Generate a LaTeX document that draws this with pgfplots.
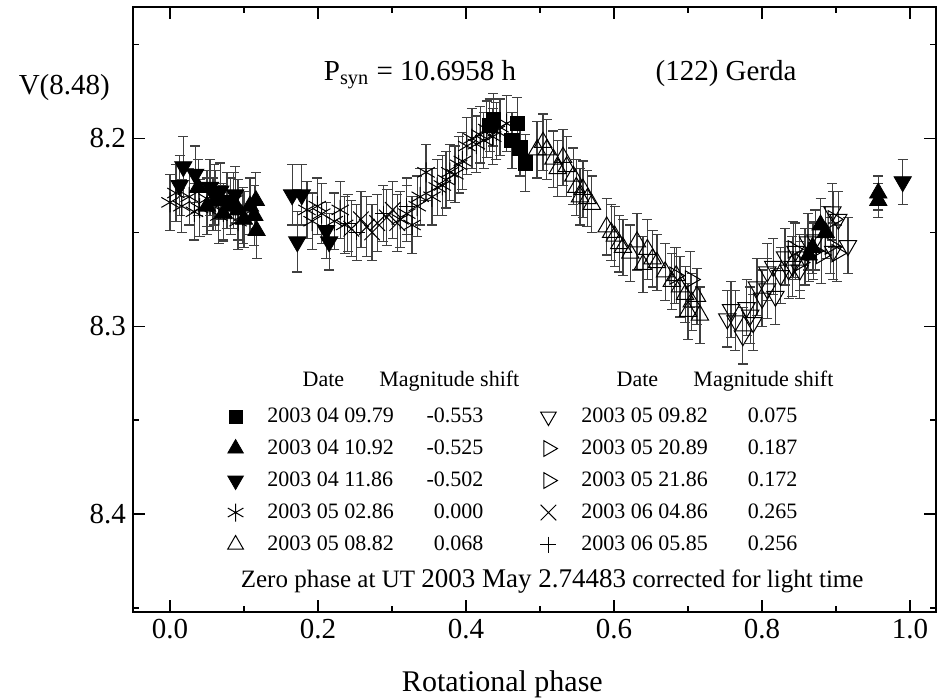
\documentclass[border=0pt]{standalone}
\usepackage{fontspec}
\setmainfont{Liberation Serif}
\usepackage{pgfplots}
\pgfplotsset{compat=1.18}
\usepackage{pgfplotstable}

% 2003 04 09.79 (filled square)
\pgfplotstableread{
x y e
0.432 8.193 0.014
0.437 8.190 0.014
0.462 8.201 0.015
0.469 8.192 0.014
0.473 8.205 0.015
0.480 8.213 0.015
}\tA
% 2003 04 10.92 (filled up triangle)
\pgfplotstableread{
x y e
0.038 8.226 0.015
0.050 8.236 0.015
0.062 8.233 0.016
0.072 8.240 0.015
0.082 8.236 0.015
0.092 8.238 0.016
0.100 8.243 0.015
0.108 8.236 0.015
0.116 8.233 0.015
0.114 8.241 0.016
0.117 8.249 0.015
0.863 8.262 0.014
0.868 8.258 0.014
0.879 8.246 0.014
0.886 8.250 0.014
0.957 8.229 0.009
0.957 8.233 0.009
}\tB
% 2003 04 11.86 (filled down triangle)
\pgfplotstableread{
x y e
0.013 8.225 0.016
0.018 8.215 0.016
0.034 8.219 0.015
0.054 8.226 0.015
0.060 8.230 0.016
0.068 8.228 0.015
0.077 8.233 0.015
0.088 8.230 0.015
0.165 8.230 0.016
0.178 8.230 0.016
0.172 8.255 0.016
0.211 8.249 0.015
0.215 8.255 0.015
0.990 8.223 0.012
}\tC
% 2003 05 02.86 (asterisk)
\pgfplotstableread{
x y e
0.000 8.234 0.015
0.008 8.229 0.015
0.016 8.236 0.014
0.026 8.231 0.015
0.033 8.239 0.015
0.040 8.237 0.015
0.050 8.232 0.015
0.058 8.235 0.014
0.066 8.241 0.015
0.072 8.239 0.015
0.086 8.233 0.015
0.092 8.244 0.015
0.098 8.241 0.015
0.185 8.238 0.015
0.192 8.244 0.015
0.199 8.236 0.015
0.205 8.240 0.016
0.222 8.244 0.015
0.230 8.238 0.015
0.236 8.246 0.015
0.311 8.243 0.015
0.320 8.240 0.015
0.327 8.246 0.015
0.334 8.236 0.016
0.338 8.231 0.015
0.346 8.218 0.015
0.354 8.231 0.015
0.361 8.226 0.015
0.368 8.225 0.016
0.373 8.222 0.015
0.378 8.218 0.015
0.385 8.219 0.015
0.390 8.214 0.015
0.395 8.212 0.015
0.401 8.204 0.015
0.408 8.200 0.016
0.414 8.203 0.015
0.419 8.198 0.015
0.424 8.201 0.015
0.428 8.195 0.015
0.436 8.199 0.015
0.441 8.196 0.015
0.446 8.194 0.015
0.455 8.192 0.015
}\tD
% 2003 05 08.82 (open up triangle)
\pgfplotstableread{
x y e
0.496 8.206 0.015
0.504 8.202 0.015
0.509 8.206 0.016
0.518 8.211 0.015
0.524 8.216 0.015
0.531 8.210 0.015
0.536 8.215 0.016
0.545 8.220 0.015
0.549 8.226 0.015
0.554 8.231 0.015
0.558 8.227 0.015
0.564 8.232 0.015
0.570 8.235 0.015
0.590 8.247 0.015
0.596 8.250 0.015
0.601 8.252 0.016
0.607 8.256 0.015
0.612 8.258 0.015
0.622 8.261 0.015
0.631 8.255 0.015
0.639 8.267 0.015
0.645 8.259 0.016
0.652 8.264 0.015
0.658 8.266 0.015
0.669 8.271 0.015
0.678 8.276 0.015
0.684 8.273 0.015
0.689 8.279 0.016
0.696 8.283 0.015
0.700 8.292 0.015
0.705 8.287 0.015
0.712 8.284 0.015
0.716 8.294 0.015
}\tE
% 2003 05 09.82 (open down triangle)
\pgfplotstableread{
x y e
0.753 8.296 0.015
0.758 8.291 0.015
0.764 8.297 0.016
0.774 8.305 0.015
0.779 8.290 0.015
0.784 8.294 0.015
0.788 8.298 0.015
0.793 8.279 0.015
0.800 8.285 0.015
0.807 8.280 0.016
0.807 8.271 0.015
0.815 8.268 0.015
0.818 8.284 0.015
0.825 8.273 0.015
0.831 8.263 0.015
0.836 8.270 0.015
0.841 8.268 0.016
0.845 8.260 0.015
0.851 8.270 0.015
0.858 8.263 0.015
0.862 8.255 0.015
0.872 8.254 0.016
0.895 8.239 0.015
0.903 8.243 0.015
0.896 8.260 0.015
0.916 8.257 0.015
}\tF
% 2003 05 20.89 (open right triangle)
\pgfplotstableread{
x y e
0.682 8.273 0.015
0.703 8.275 0.015
0.842 8.259 0.015
0.851 8.266 0.015
0.869 8.260 0.015
}\tG
% 2003 05 21.86 (open right triangle)
\pgfplotstableread{
x y e
0.880 8.262 0.015
0.892 8.257 0.015
0.896 8.243 0.015
0.901 8.261 0.015
}\tH
% 2003 06 04.86 (x)
\pgfplotstableread{
x y e
0.245 8.248 0.015
0.258 8.243 0.015
0.266 8.247 0.016
0.273 8.250 0.015
0.280 8.245 0.015
0.293 8.242 0.015
0.301 8.238 0.015
0.307 8.245 0.015
}\tI
% 2003 06 05.85 (+)
\pgfplotstableread{
x y e
0.240 8.245 0.015
0.252 8.250 0.015
0.288 8.240 0.015
0.320 8.236 0.015
}\tJ

\pgfplotsset{
  ebars/.style={
    /pgfplots/error bars/y dir=both,
    /pgfplots/error bars/y explicit,
    /pgfplots/error bars/error bar style={line width=0.6pt, black!75},
    /pgfplots/error bars/error mark=-,
    /pgfplots/error bars/error mark options={rotate=90, line width=0.6pt, black!75, mark size=2.5pt}
  },
}
\newcommand{\ent}[2]{\makebox[74pt][l]{#1}\makebox[34pt][r]{#2}}
\newcommand{\hdr}{\raisebox{2pt}{\makebox[56pt][c]{Date}\makebox[18pt]{}\makebox[34pt][c]{Magnitude shift}}}

\begin{document}
\begin{tikzpicture}
\useasboundingbox (-66.5pt,-44pt) rectangle (402pt,306pt);
\begin{axis}[
  scale only axis, width=401.5pt, height=302.5pt,
  at={(0,0)}, anchor=south west,
  xmin=-0.05, xmax=1.035, ymin=8.13, ymax=8.452, y dir=reverse,
  xtick={0,0.2,0.4,0.6,0.8,1}, minor xtick={0.1,0.3,0.5,0.7,0.9},
  ytick={8.2,8.3,8.4}, minor ytick={8.15,8.25,8.35,8.45},
  tick align=inside, major tick length=6pt, minor tick length=3pt,
  every tick/.style={black, line width=0.9pt},
  axis line style={line width=1.2pt},
  /pgf/number format/assume math mode=true,
  xticklabel style={/pgf/number format/.cd, fixed, fixed zerofill, precision=1},
  yticklabel style={/pgf/number format/.cd, fixed, fixed zerofill, precision=1},
  ticklabel style={font=\fontsize{14.5}{16}\selectfont},
  xlabel={Rotational phase},
  xlabel style={font=\fontsize{15}{17}\selectfont, at={(axis description cs:0.46,-0.132)}, anchor=base},
  ylabel={V(8.48)},
  ylabel style={font=\fontsize{14.5}{16}\selectfont, rotate=-90, at={(axis description cs:-0.151,0.855)}, anchor=base west},
  legend columns=2,
  legend cell align=left,
  legend style={draw=none, fill=none, at={(0.106,0.394)}, anchor=north west,
    inner sep=0pt, font=\fontsize{11}{13}\selectfont,
    nodes={inner sep=0pt, text height=8pt, text depth=2.5pt},
    row sep=5.5pt,
    /tikz/every odd column/.append style={column sep=12pt},
    /tikz/every even column/.append style={column sep=24pt}},
]
\addplot[only marks, mark=asterisk, mark size=5pt, mark options={line width=0.5pt}, forget plot, ebars] table[x=x,y=y,y error=e] {\tD};
\addplot[only marks, mark=x, mark size=5.5pt, mark options={line width=0.5pt}, forget plot, ebars] table[x=x,y=y,y error=e] {\tI};
\addplot[only marks, mark=+, mark size=4pt, mark options={line width=0.5pt}, forget plot, ebars] table[x=x,y=y,y error=e] {\tJ};
\addplot[only marks, mark=triangle, mark size=5pt, mark options={line width=0.5pt}, forget plot, ebars] table[x=x,y=y,y error=e] {\tE};
\addplot[only marks, mark=triangle, mark size=5pt, mark options={line width=0.5pt, rotate=180}, forget plot, ebars] table[x=x,y=y,y error=e] {\tF};
\addplot[only marks, mark=triangle, mark size=5pt, mark options={line width=0.5pt, rotate=-90}, forget plot, ebars] table[x=x,y=y,y error=e] {\tG};
\addplot[only marks, mark=triangle, mark size=5pt, mark options={line width=0.5pt, rotate=-90}, forget plot, ebars] table[x=x,y=y,y error=e] {\tH};
\addplot[only marks, mark=triangle*, mark size=5pt, mark options={fill=black}, forget plot, ebars] table[x=x,y=y,y error=e] {\tB};
\addplot[only marks, mark=triangle*, mark size=5pt, mark options={fill=black, rotate=180}, forget plot, ebars] table[x=x,y=y,y error=e] {\tC};
\addplot[only marks, mark=square*, mark size=3.6pt, mark options={fill=black}, forget plot, ebars] table[x=x,y=y,y error=e] {\tA};

\addlegendimage{empty legend}\addlegendentry{\hdr}
\addlegendimage{empty legend}\addlegendentry{\hdr}
\addlegendimage{only marks, mark=square*, mark size=3.2pt, mark options={fill=black}}\addlegendentry{\ent{2003 04 09.79}{-0.553}}
\addlegendimage{only marks, mark=triangle, mark size=4.5pt, mark options={line width=0.5pt, rotate=180}}\addlegendentry{\ent{2003 05 09.82}{0.075}}
\addlegendimage{only marks, mark=triangle*, mark size=4.5pt, mark options={fill=black}}\addlegendentry{\ent{2003 04 10.92}{-0.525}}
\addlegendimage{only marks, mark=triangle, mark size=4.5pt, mark options={line width=0.5pt, rotate=-90}}\addlegendentry{\ent{2003 05 20.89}{0.187}}
\addlegendimage{only marks, mark=triangle*, mark size=4.5pt, mark options={fill=black, rotate=180}}\addlegendentry{\ent{2003 04 11.86}{-0.502}}
\addlegendimage{only marks, mark=triangle, mark size=4.5pt, mark options={line width=0.5pt, rotate=-90}}\addlegendentry{\ent{2003 05 21.86}{0.172}}
\addlegendimage{only marks, mark=asterisk, mark size=4.5pt, mark options={line width=0.5pt}}\addlegendentry{\ent{2003 05 02.86}{0.000}}
\addlegendimage{only marks, mark=x, mark size=5.5pt, mark options={line width=0.5pt}}\addlegendentry{\ent{2003 06 04.86}{0.265}}
\addlegendimage{only marks, mark=triangle, mark size=4.5pt, mark options={line width=0.5pt}}\addlegendentry{\ent{2003 05 08.82}{0.068}}
\addlegendimage{only marks, mark=+, mark size=4pt, mark options={line width=0.5pt}}\addlegendentry{\ent{2003 06 05.85}{0.256}}

\node[anchor=base west, font=\fontsize{14.5}{16}\selectfont] at (axis description cs:0.229,0.879) {P\textsubscript{syn} = 10.6958 h};
\node[anchor=base west, font=\fontsize{14.5}{16}\selectfont] at (axis description cs:0.642,0.879) {(122) Gerda};
\node[anchor=base, font=\fontsize{12.5}{14}\selectfont] at (axis description cs:0.522,0.040) {Zero phase at UT {\fontsize{13.5}{15}\selectfont 2003 May 2.74483} corrected for light time};
\end{axis}
\end{tikzpicture}
\end{document}
